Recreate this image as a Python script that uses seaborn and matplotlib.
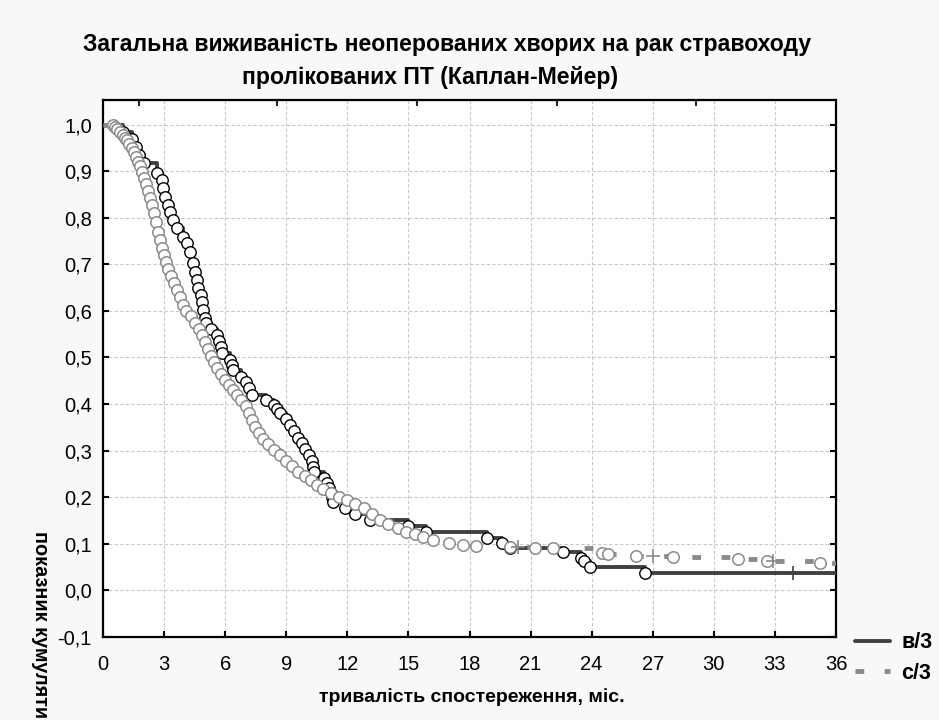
import numpy as np
import pandas as pd
import matplotlib
matplotlib.use("Agg")
import matplotlib.pyplot as plt
from matplotlib.lines import Line2D
import seaborn as sns

# група в/3 (суцільна темна лінія) - точки подій (міс., показник)
b_time = [1.0, 1.4, 1.6, 1.75, 2.0, 2.67, 2.88, 2.96, 3.04, 3.21, 3.29, 3.45, 3.62,
          3.95, 4.11, 4.27, 4.44, 4.52, 4.6, 4.68, 4.8, 4.85, 4.93, 5.0, 5.05,
          5.3, 5.6, 5.7, 5.78, 5.84, 6.25, 6.32, 6.4, 6.8, 7.0, 7.15, 7.3, 8.0,
          8.4, 8.55, 8.7, 9.0, 9.2, 9.4, 9.6, 9.75, 9.9, 10.1, 10.25, 10.3, 10.35,
          10.85, 11.0, 11.1, 11.2, 11.25, 11.3, 11.9, 12.4, 13.1, 15.0, 15.85,
          18.85, 19.6, 20.0, 22.6, 23.5, 23.6, 23.9, 26.6]
b_surv = [0.985, 0.968, 0.952, 0.935, 0.917, 0.896, 0.881, 0.863, 0.845, 0.827,
          0.813, 0.795, 0.777, 0.759, 0.745, 0.727, 0.702, 0.684, 0.666, 0.649,
          0.635, 0.62, 0.602, 0.585, 0.574, 0.561, 0.548, 0.535, 0.522, 0.51,
          0.495, 0.484, 0.472, 0.458, 0.447, 0.435, 0.42, 0.409, 0.399, 0.39,
          0.38, 0.368, 0.355, 0.342, 0.328, 0.316, 0.303, 0.29, 0.277, 0.265,
          0.254, 0.242, 0.231, 0.22, 0.21, 0.20, 0.19, 0.177, 0.165, 0.151, 0.138,
          0.125, 0.113, 0.102, 0.090, 0.082, 0.07, 0.063, 0.05, 0.038]
b_cens_t = [33.9]
b_cens_s = [0.038]

# група с/3 (сіра пунктирна лінія)
c_time = [0.5, 0.6, 0.7, 0.85, 1.0, 1.1, 1.2, 1.3, 1.4, 1.5, 1.6, 1.7, 1.8, 1.9,
          2.0, 2.1, 2.2, 2.3, 2.4, 2.5, 2.6, 2.7, 2.8, 2.9, 3.0, 3.1, 3.2, 3.35,
          3.5, 3.65, 3.8, 3.95, 4.1, 4.3, 4.5, 4.7, 4.85, 5.0, 5.15, 5.3, 5.45,
          5.6, 5.8, 6.0, 6.2, 6.4, 6.6, 6.8, 7.0, 7.15, 7.3, 7.45, 7.65, 7.85,
          8.1, 8.4, 8.7, 9.0, 9.3, 9.6, 9.9, 10.2, 10.5, 10.8, 11.2, 11.6, 12.0,
          12.4, 12.8, 13.2, 13.6, 14.0, 14.5, 14.9, 15.3, 15.7, 16.2, 17.0, 17.7,
          18.3, 20.0, 21.2, 22.1, 24.5, 24.8, 26.2, 28.0, 31.2, 32.6, 35.2]
c_surv = [1.0, 0.995, 0.99, 0.985, 0.978, 0.972, 0.966, 0.958, 0.95, 0.94, 0.93,
          0.92, 0.91, 0.898, 0.885, 0.872, 0.858, 0.843, 0.827, 0.81, 0.79, 0.77,
          0.752, 0.735, 0.72, 0.705, 0.69, 0.675, 0.66, 0.645, 0.63, 0.613, 0.60,
          0.588, 0.575, 0.562, 0.548, 0.533, 0.518, 0.503, 0.49, 0.477, 0.465,
          0.452, 0.44, 0.43, 0.42, 0.408, 0.395, 0.38, 0.365, 0.35, 0.337, 0.325,
          0.315, 0.302, 0.29, 0.278, 0.267, 0.255, 0.245, 0.236, 0.227, 0.218,
          0.208, 0.2, 0.193, 0.186, 0.176, 0.165, 0.152, 0.142, 0.133, 0.125,
          0.12, 0.114, 0.108, 0.102, 0.098, 0.096, 0.093, 0.092, 0.09, 0.081,
          0.078, 0.073, 0.072, 0.068, 0.064, 0.059]
c_cens_t = [20.4, 27.0, 32.9]
c_cens_s = [0.093, 0.073, 0.064]

x_ticks = list(range(0, 37, 3))
y_ticks = [-0.1, 0.0, 0.1, 0.2, 0.3, 0.4, 0.5, 0.6, 0.7, 0.8, 0.9, 1.0]
top_ticks = [1.77, 8.55, 15.4, 22.3, 29.1]

title_1 = "Загальна виживаність неоперованих хворих на рак стравоходу"
title_2 = "пролікованих ПТ (Каплан-Мейер)"

sns.set_style("white")
plt.rcParams['font.family'] = ['Liberation Sans', 'DejaVu Sans']
plt.rcParams['text.color'] = 'black'

dark = "#404040"
grey = "#8a8a8a"


def step_frame(t, s):
    # крива Каплана-Мейєра від 0 до кінця спостереження
    return pd.DataFrame({"t": [0] + t + [36], "s": [1.0] + s + [s[-1]]})


fig = plt.figure(figsize=(9.39, 7.2), dpi=100, facecolor="#f8f8f8")
ax = fig.add_axes([0.1097, 0.1153, 0.7806, 0.7458])
ax.set_facecolor("white")

line_b = step_frame(b_time, b_surv)
line_c = step_frame(c_time, c_surv)

sns.lineplot(data=line_b, x="t", y="s", ax=ax, drawstyle="steps-post", color=dark,
             linewidth=2.8, estimator=None, sort=False, zorder=3)
sns.lineplot(data=line_c, x="t", y="s", ax=ax, drawstyle="steps-post", color=grey,
             linewidth=3.5, dashes=False, estimator=None, sort=False, zorder=3)
ax.lines[-1].set_dashes([1.8, 4.2])
ax.lines[-1].set_dash_capstyle("butt")

sns.scatterplot(x=b_time, y=b_surv, ax=ax, marker="o", s=68, facecolor="white",
                edgecolor="black", linewidth=1.0, zorder=4)
sns.scatterplot(x=c_time, y=c_surv, ax=ax, marker="o", s=68, facecolor="white",
                edgecolor=grey, linewidth=1.1, zorder=5)
ax.scatter(c_cens_t, c_cens_s, marker="+", s=110, color=grey, linewidth=1.2, zorder=6)
ax.scatter(b_cens_t, b_cens_s, marker="+", s=110, color=dark, linewidth=1.2, zorder=6)

ax.set_xlim(0, 36)
ax.set_ylim(-0.1, 1.0526)
ax.set_xticks(x_ticks)
ax.set_xticklabels([str(v) for v in x_ticks])
ax.set_yticks(y_ticks)
ax.set_yticklabels([f"{v:.1f}".replace(".", ",") for v in y_ticks])
ax.grid(True, color="#c8c8c8", linestyle=(0, (3, 2)), linewidth=0.8)
ax.set_axisbelow(True)
ax.tick_params(axis="both", direction="in", length=4, width=1.5, labelsize=14.5,
               right=True, left=True, bottom=True, pad=8, colors="black")
ax.tick_params(axis="x", pad=13)
for sp in ax.spines.values():
    sp.set_color("black")
    sp.set_linewidth(1.6)

top = ax.secondary_xaxis("top")
top.set_xticks(top_ticks)
top.set_xticklabels([])
top.tick_params(direction="in", length=4, width=1.5)

ax.set_xlabel("")
ax.set_ylabel("")
fig.text(0.502, 0.032, "тривалість спостереження, міс.", ha="center", va="center",
         fontsize=14, fontweight="bold")
fig.text(0.043, 0.262, "показник кумулятивного виживання", rotation=270,
         ha="center", va="top", fontsize=14.3, fontweight="bold")
fig.text(0.476, 0.9375, title_1, ha="center", va="center", fontsize=16.6,
         fontweight="bold")
fig.text(0.458, 0.8917, title_2, ha="center", va="center", fontsize=16.6,
         fontweight="bold")

handles = [Line2D([0], [0], color=dark, lw=2.8),
           Line2D([0], [0], color=grey, lw=3.5, dashes=[1.8, 4.2], dash_capstyle="butt")]
fig.legend(handles, ["в/3", "с/3"], loc="upper left", bbox_to_anchor=(0.9105, 0.122),
           frameon=False, handlelength=1.65, handletextpad=0.5, labelspacing=0.45,
           prop={"weight": "bold", "size": 15.5}, borderaxespad=0, borderpad=0)

fig.savefig("out.png", dpi=100, facecolor=fig.get_facecolor())
